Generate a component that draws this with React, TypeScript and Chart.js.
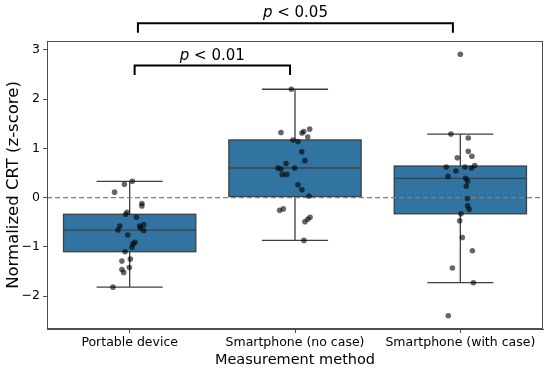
import React, { useEffect, useRef } from "react";
import { Chart, registerables } from "chart.js";

Chart.register(...registerables);

const categories = ["Portable device", "Smartphone (no case)", "Smartphone (with case)"];
const yTicks = [-2, -1, 0, 1, 2, 3];

const boxQ1 = [-1.1, 0.02, -0.33];
const boxMedian = [-0.66, 0.6, 0.39];
const boxQ3 = [-0.34, 1.17, 0.64];
const whiskerLow = [-1.82, -0.87, -1.73];
const whiskerHigh = [0.33, 2.2, 1.29];

const portableValues = [0.33, 0.27, 0.11, -0.12, -0.17, -0.3, -0.34, -0.4, -0.58, -0.66, -0.58, -0.55, -0.67, -0.62, -0.76, -0.91, -0.94, -1.01, -1.1, -1.25, -1.29, -1.42, -1.46, -1.52, -1.82];
const portableJitter = [0.016, -0.032, -0.091, 0.074, 0.074, -0.016, -0.024, 0.041, -0.06, -0.071, 0.06, 0.085, 0.085, 0.065, -0.012, 0.032, 0.02, 0.014, -0.028, 0.004, -0.047, -0.002, -0.047, -0.036, -0.101];

const noCaseValues = [2.2, 1.32, 1.31, 1.34, 1.39, 1.23, 1.17, 1.14, 0.93, 0.75, 0.69, 0.6, 0.58, 0.6, 0.47, 0.47, 0.26, 0.16, 0.03, -0.26, -0.23, -0.49, -0.44, -0.4, -0.87];
const noCaseJitter = [-0.022, -0.085, 0.042, 0.053, 0.089, 0.077, -0.012, 0.018, 0.041, 0.06, -0.054, -0.103, -0.085, -0.002, -0.077, -0.05, 0.018, 0.042, 0.085, -0.093, -0.071, 0.06, 0.077, 0.091, 0.054];

const withCaseValues = [2.91, 1.29, 1.21, 0.94, 0.84, 0.81, 0.62, 0.54, 0.62, 0.6, 0.65, 0.43, 0.39, 0.33, 0.23, -0.02, -0.17, -0.24, -0.33, -0.47, -0.81, -1.08, -1.43, -1.73, -2.4];
const withCaseJitter = [0, -0.057, 0.048, 0.048, 0.07, -0.018, -0.085, -0.027, 0.028, 0.068, 0.087, -0.075, 0.032, 0.044, 0.036, 0.042, 0.044, 0.054, 0.004, -0.004, 0.012, 0.073, -0.048, 0.079, -0.073];

// significance brackets
const bracketLabels = ["< 0.01", "< 0.05"];
const bracketFrom = [0.03, 0.05];
const bracketTo = [0.97, 1.955];
const bracketTop = [2.68, 3.54];
const bracketBottom = [2.49, 3.35];

const FONT = "'DejaVu Sans', sans-serif";
const BOX_FILL = "#3274a1";
const EDGE = "#3f3f3f";

const groups = [
  { values: portableValues, jitter: portableJitter },
  { values: noCaseValues, jitter: noCaseJitter },
  { values: withCaseValues, jitter: withCaseJitter },
];

const boxPlugin = {
  id: "boxPlugin",
  beforeDatasetsDraw(chart: any) {
    const { ctx, scales, chartArea } = chart;
    const xs = scales.x;
    const ys = scales.y;
    ctx.save();
    for (let i = 0; i < categories.length; i++) {
      const l = xs.getPixelForValue(i - 0.4);
      const r = xs.getPixelForValue(i + 0.4);
      const cl = xs.getPixelForValue(i - 0.2);
      const cr = xs.getPixelForValue(i + 0.2);
      const cx = xs.getPixelForValue(i);
      const q1 = ys.getPixelForValue(boxQ1[i]);
      const q3 = ys.getPixelForValue(boxQ3[i]);
      const md = ys.getPixelForValue(boxMedian[i]);
      const wl = ys.getPixelForValue(whiskerLow[i]);
      const wh = ys.getPixelForValue(whiskerHigh[i]);
      ctx.strokeStyle = EDGE;
      ctx.lineWidth = 1.3;
      ctx.beginPath();
      ctx.moveTo(cx, q3);
      ctx.lineTo(cx, wh);
      ctx.moveTo(cx, q1);
      ctx.lineTo(cx, wl);
      ctx.moveTo(cl, wh);
      ctx.lineTo(cr, wh);
      ctx.moveTo(cl, wl);
      ctx.lineTo(cr, wl);
      ctx.stroke();
      ctx.fillStyle = BOX_FILL;
      ctx.fillRect(l, q3, r - l, q1 - q3);
      ctx.strokeRect(l, q3, r - l, q1 - q3);
      ctx.beginPath();
      ctx.moveTo(l, md);
      ctx.lineTo(r, md);
      ctx.stroke();
    }
    const y0 = ys.getPixelForValue(0);
    ctx.strokeStyle = "#808080";
    ctx.lineWidth = 1.3;
    ctx.setLineDash([5, 3]);
    ctx.beginPath();
    ctx.moveTo(chartArea.left, y0);
    ctx.lineTo(chartArea.right, y0);
    ctx.stroke();
    ctx.setLineDash([]);
    ctx.restore();
  },
  afterDraw(chart: any) {
    const { ctx, scales, chartArea } = chart;
    const xs = scales.x;
    const ys = scales.y;
    ctx.save();
    ctx.strokeStyle = "#4d4d4d";
    ctx.lineWidth = 1;
    ctx.strokeRect(chartArea.left + 0.5, chartArea.top + 0.5, chartArea.right - chartArea.left - 1, chartArea.bottom - chartArea.top - 1);
    for (let i = 0; i < bracketLabels.length; i++) {
      const x1 = xs.getPixelForValue(bracketFrom[i]);
      const x2 = xs.getPixelForValue(bracketTo[i]);
      const yt = ys.getPixelForValue(bracketTop[i]);
      const yb = ys.getPixelForValue(bracketBottom[i]);
      ctx.strokeStyle = "#000";
      ctx.lineWidth = 2;
      ctx.beginPath();
      ctx.moveTo(x1, yb);
      ctx.lineTo(x1, yt);
      ctx.lineTo(x2, yt);
      ctx.lineTo(x2, yb);
      ctx.stroke();
      const fs = 15;
      ctx.fillStyle = "#000";
      ctx.textBaseline = "alphabetic";
      ctx.textAlign = "left";
      ctx.font = `italic ${fs}px ${FONT}`;
      const pW = ctx.measureText("p").width;
      ctx.font = `${fs}px ${FONT}`;
      const rest = " " + bracketLabels[i];
      const rW = ctx.measureText(rest).width;
      const total = pW + rW;
      const mx = (x1 + x2) / 2;
      const ty = yt - 6;
      ctx.font = `italic ${fs}px ${FONT}`;
      ctx.fillText("p", mx - total / 2, ty);
      ctx.font = `${fs}px ${FONT}`;
      ctx.fillText(rest, mx - total / 2 + pW, ty);
    }
    ctx.restore();
  },
};

export default function App() {
  const ref = useRef<HTMLCanvasElement | null>(null);
  useEffect(() => {
    document.body.style.margin = "0";
    const canvas = ref.current;
    if (!canvas) return;
    const datasets = groups.map((g, gi) => ({
      type: "scatter" as const,
      data: g.values.map((v, k) => ({ x: gi + g.jitter[k], y: v })),
      backgroundColor: "rgba(0,0,0,0.6)",
      borderWidth: 0,
      pointRadius: 2.8,
    }));
    const chart = new Chart(canvas, {
      type: "scatter",
      data: { datasets },
      plugins: [boxPlugin],
      options: {
        animation: false,
        responsive: false,
        devicePixelRatio: 1,
        layout: { padding: { top: 41, right: 7, left: 0, bottom: 0 } },
        plugins: { legend: { display: false }, tooltip: { enabled: false } },
        scales: {
          x: {
            type: "linear",
            min: -0.5,
            max: 2.5,
            afterBuildTicks: (axis: any) => {
              axis.ticks = categories.map((_, i) => ({ value: i }));
            },
            afterFit: (axis: any) => {
              axis.height = 41;
            },
            ticks: {
              callback: (v: any) => categories[Math.round(Number(v))] ?? "",
              color: "#000",
              font: { family: FONT, size: 12.5 },
              padding: 2,
              maxRotation: 0,
              autoSkip: false,
            },
            grid: { drawOnChartArea: false, tickLength: 4, color: "#4d4d4d" },
            border: { color: "#4d4d4d" },
            title: {
              display: true,
              text: "Measurement method",
              color: "#000",
              font: { family: FONT, size: 14.5 },
              padding: { top: 0, bottom: 1 },
            },
          },
          y: {
            type: "linear",
            min: -2.67,
            max: 3.18,
            afterBuildTicks: (axis: any) => {
              axis.ticks = yTicks.map((v) => ({ value: v }));
            },
            afterFit: (axis: any) => {
              axis.width = 47;
            },
            ticks: {
              color: "#000",
              font: { family: FONT, size: 12.5 },
              padding: 3,
              callback: (v: any) => (Number(v) < 0 ? "\u2212" + Math.abs(Number(v)) : String(v)),
            },
            grid: { drawOnChartArea: false, tickLength: 4, color: "#4d4d4d" },
            border: { color: "#4d4d4d" },
            title: {
              display: true,
              text: "Normalized CRT (z-score)",
              color: "#000",
              font: { family: FONT, size: 16.5 },
              padding: { top: 4, bottom: 0 },
            },
          },
        },
      },
    });
    return () => chart.destroy();
  }, []);
  return <canvas ref={ref} width={550} height={370} style={{ display: "block" }} />;
}
